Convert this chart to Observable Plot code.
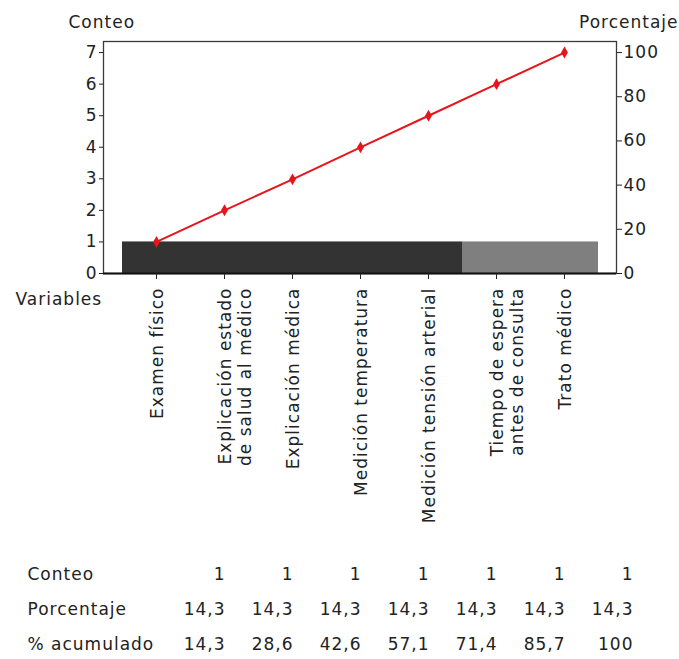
<!DOCTYPE html>
<html>
<head>
<meta charset="utf-8">
<script src="https://cdn.jsdelivr.net/npm/d3@7"></script>
<script src="https://cdn.jsdelivr.net/npm/@observablehq/plot@0.6"></script>
<style>
  html, body { margin: 0; padding: 0; background: #fff; }
  svg { letter-spacing: 1px; }
</style>
</head>
<body>
<div id="chart"></div>
<script>
const categories = [
  "Examen físico",
  "Explicación estado\nde salud al médico",
  "Explicación médica",
  "Medición temperatura",
  "Medición tensión arterial",
  "Tiempo de espera\nantes de consulta",
  "Trato médico"
];
const counts = [1, 1, 1, 1, 1, 1, 1];
const percents = [14.3, 14.3, 14.3, 14.3, 14.3, 14.3, 14.3];
const cumPercents = [14.3, 28.6, 42.6, 57.1, 71.4, 85.7, 100];
const barGroups = ["main", "main", "main", "main", "main", "other", "other"];
const leftTicks = [0, 1, 2, 3, 4, 5, 6, 7];
const rightTicks = [0, 20, 40, 60, 80, 100];
const rowLabels = ["Conteo", "Porcentaje", "% acumulado"];

const total = d3.sum(counts);
const data = categories.map((c, i) => ({
  cat: c, count: counts[i], pct: percents[i], cum: cumPercents[i], group: barGroups[i]
}));
const fmt = v => String(v).replace(".", ",");

const rowDy = [306, 341, 376];
const tableMarks = [];
rowLabels.forEach((lab, r) => {
  tableMarks.push(Plot.text([lab], {
    frameAnchor: "bottom-left", dx: -76, dy: rowDy[r], textAnchor: "start", fill: "#222"
  }));
  const vals = r === 0 ? counts : r === 1 ? percents : cumPercents;
  tableMarks.push(Plot.text(data, {
    x: "cat", text: (d, i) => fmt(vals[i]), frameAnchor: "bottom",
    dx: 69, dy: rowDy[r], textAnchor: "end", fill: "#222"
  }));
});

const chart = Plot.plot({
  width: 679,
  height: 659,
  marginLeft: 103,
  marginRight: 63,
  marginTop: 41,
  marginBottom: 386,
  style: { fontFamily: "DejaVu Sans", fontSize: "17px", background: "#fff", color: "#222" },
  x: { domain: categories, paddingInner: 0, paddingOuter: 0.25, axis: null },
  y: { domain: [0, 7.35], axis: null },
  color: { domain: ["main", "other"], range: ["#333333", "#7f7f7f"] },
  marks: [
    Plot.barY(data, { x: "cat", y: "count", fill: "group", inset: 0 }),
    Plot.frame({ stroke: "#3a3a3a", strokeWidth: 1.3 }),
    Plot.ruleY([0], { stroke: "#111", strokeWidth: 2 }),
    Plot.axisY(leftTicks, { anchor: "left", tickSize: 4, tickPadding: 2, label: null, fontSize: 17 }),
    Plot.axisY(rightTicks.map(p => p * total / 100), {
      anchor: "right", tickSize: 5, tickPadding: 2, label: null, fontSize: 17,
      tickFormat: d => String(Math.round(d * 100 / total))
    }),
    Plot.axisX({ tickSize: 6, tickFormat: () => "", label: null }),
    Plot.text(categories, {
      x: d => d, frameAnchor: "bottom", dy: 14, dx: -8, rotate: -90,
      textAnchor: "end", lineAnchor: "top", lineHeight: 1.2, fill: "#222"
    }),
    Plot.lineY(data, { x: "cat", y: d => d.cum * total / 100, stroke: "#e8141b", strokeWidth: 2 }),
    Plot.dot(data, { x: "cat", y: d => d.cum * total / 100, symbol: "diamond", r: 3.6, fill: "#e8141b", stroke: "none" }),
    Plot.text(["Conteo"], { frameAnchor: "top-left", dx: -35, dy: -26, textAnchor: "start", fill: "#222" }),
    Plot.text(["Porcentaje"], { frameAnchor: "top-right", dx: 62, dy: -26, textAnchor: "end", fill: "#222" }),
    Plot.text(["Variables"], { frameAnchor: "bottom-left", dx: -88, dy: 31, textAnchor: "start", fill: "#222" }),
    ...tableMarks
  ]
});
document.getElementById("chart").appendChild(chart);
</script>
</body>
</html>
